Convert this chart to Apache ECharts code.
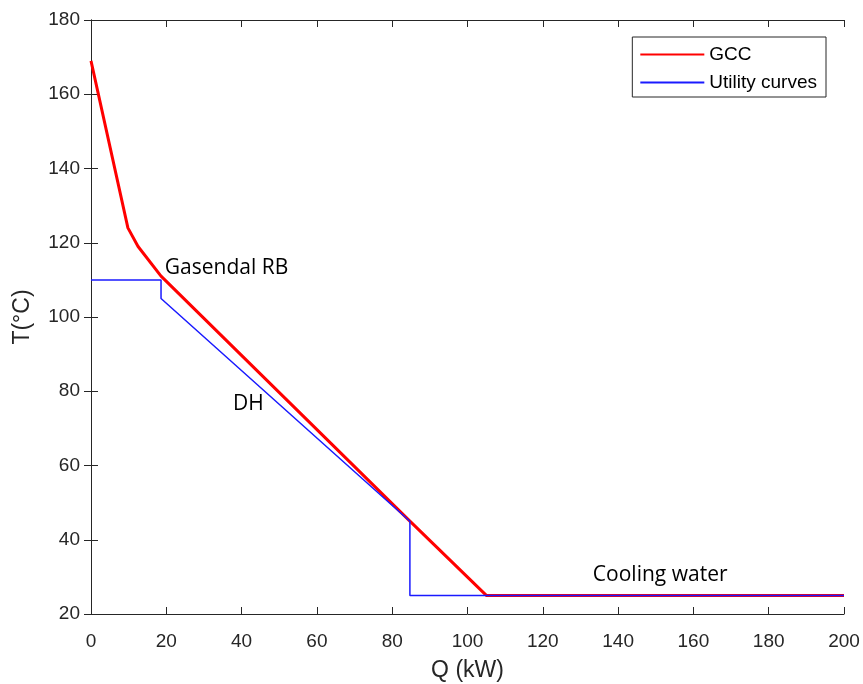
<!DOCTYPE html>
<html>
<head>
<meta charset="utf-8">
<script src="https://cdn.jsdelivr.net/npm/echarts@6/dist/echarts.min.js"></script>
<style>html,body{margin:0;padding:0;background:#fff;}#c{width:863px;height:684px;}</style>
</head>
<body>
<div id="c"></div>
<script>
// Data
var gccQ = [0, 9.8, 12.5, 18.6, 84.7, 105, 200];
var gccT = [169, 124, 119, 111, 45, 25, 25];
var utilQ = [0, 18.6, 18.6, 84.7, 84.7, 200];
var utilT = [110, 110, 105, 45, 25, 25];
var annoText = ['Gasendal RB', 'DH', 'Cooling water'];
var annoQ = [19.6, 37.7, 133.3];
var annoT = [113.2, 76.6, 30.5];
var xTicks = [0, 20, 40, 60, 80, 100, 120, 140, 160, 180, 200];
var yTicks = [20, 40, 60, 80, 100, 120, 140, 160, 180];

function pairs(a, b) { return a.map(function (v, i) { return [v, b[i]]; }); }

var axisCol = '#262626';
var labelFont = 'Liberation Sans';
var chart = echarts.init(document.getElementById('c'), null, {renderer: 'canvas'});
var baseX = {
  type: 'value', min: xTicks[0], max: xTicks[xTicks.length - 1], interval: 20,
  axisLine: {show: true, lineStyle: {color: axisCol, width: 1}},
  axisTick: {show: true, inside: true, length: 7, lineStyle: {color: axisCol}},
  splitLine: {show: false}
};
var baseY = {
  type: 'value', min: yTicks[0], max: yTicks[yTicks.length - 1], interval: 20,
  axisLine: {show: true, lineStyle: {color: axisCol, width: 1}},
  axisTick: {show: true, inside: true, length: 7, lineStyle: {color: axisCol}},
  splitLine: {show: false}
};
chart.setOption({
  animation: false,
  backgroundColor: '#fff',
  grid: {left: 91, right: 19, top: 20, bottom: 70, containLabel: false, outerBoundsMode: 'none'},
  legend: {
    show: true,
    data: [{name: 'GCC'}, {name: 'Utility curves'}],
    orient: 'vertical', right: 37, top: 37,
    backgroundColor: '#fff',
    borderColor: axisCol, borderWidth: 1,
    padding: [8, 9, 5, 7],
    itemWidth: 64, itemHeight: 16, itemGap: 9,
    itemStyle: {opacity: 0},
    textStyle: {fontFamily: labelFont, fontSize: 19, color: '#000'},
    z: 10
  },
  xAxis: [
    Object.assign({}, baseX, {
      position: 'bottom',
      name: 'Q (kW)', nameLocation: 'middle', nameGap: 45,
      nameTextStyle: {fontFamily: labelFont, fontSize: 23, color: axisCol},
      axisLabel: {fontFamily: labelFont, fontSize: 19, color: axisCol, margin: 18}
    }),
    Object.assign({}, baseX, {position: 'top', axisLabel: {show: false}})
  ],
  yAxis: [
    Object.assign({}, baseY, {
      position: 'left',
      name: 'T(°C)', nameLocation: 'middle', nameGap: 57, nameRotate: 90,
      nameTextStyle: {fontFamily: labelFont, fontSize: 23, color: axisCol},
      axisLabel: {fontFamily: labelFont, fontSize: 19, color: axisCol, margin: 11}
    }),
    Object.assign({}, baseY, {position: 'right', axisLabel: {show: false}})
  ],
  series: [
    {
      name: 'GCC', type: 'line', data: pairs(gccQ, gccT),
      symbol: 'none',
      lineStyle: {color: '#ff0000', width: 3},
      itemStyle: {color: '#ff0000'}, z: 2
    },
    {
      name: 'Utility curves', type: 'line', data: pairs(utilQ, utilT),
      symbol: 'none',
      lineStyle: {color: '#1a1aff', width: 1.5},
      itemStyle: {color: '#1a1aff'}, z: 3
    },
    {
      name: 'annotations', type: 'scatter', symbolSize: 0,
      itemStyle: {opacity: 1},
      data: annoText.map(function (t, i) { return {name: t, value: [annoQ[i], annoT[i]]}; }),
      label: {
        show: true, position: 'right', distance: 0,
        formatter: function (p) { return p.name; },
        fontFamily: 'Open Sans', fontSize: 21, color: '#000', opacity: 1
      },
      silent: true, z: 4
    }
  ]
});
</script>
</body>
</html>
